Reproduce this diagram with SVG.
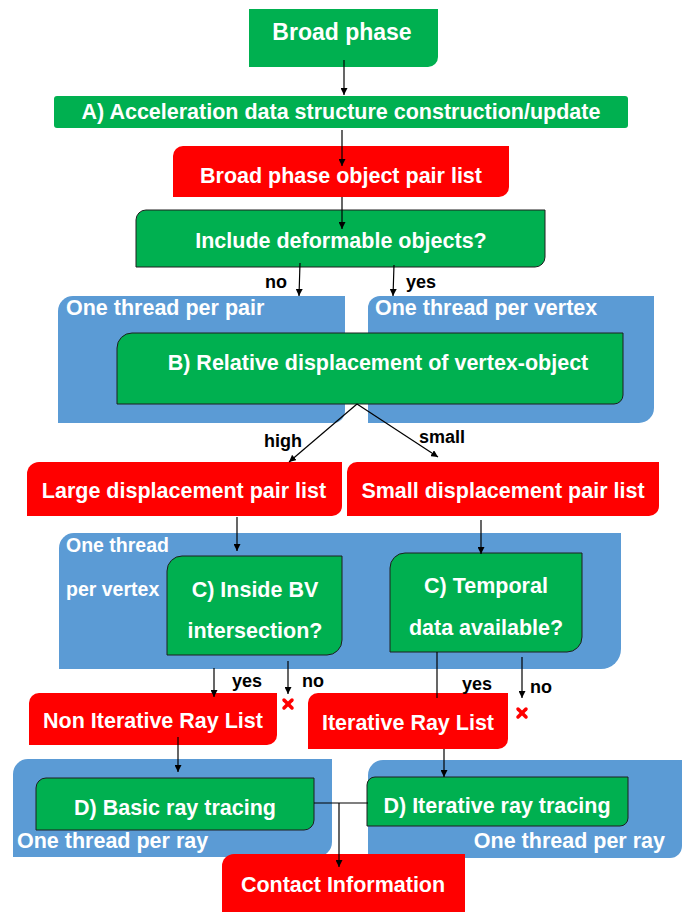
<svg xmlns="http://www.w3.org/2000/svg" width="691" height="912" viewBox="0 0 691 912">
<defs>
<marker id="ah" viewBox="0 0 10 10" refX="10" refY="5" markerWidth="7" markerHeight="7" orient="auto" markerUnits="userSpaceOnUse">
<path d="M0,0 L10,5 L0,10 Z" fill="#000"/>
</marker>
<style>
.g{fill:#00B050}
.gs{fill:#00B050;stroke:#1e1e1e;stroke-width:1}
.r{fill:#FF0000}
.b{fill:#5B9BD5}
.t{font-family:"Liberation Sans",Arial,sans-serif;font-weight:bold;fill:#fff;font-size:21.5px;text-anchor:middle}
.tl{font-family:"Liberation Sans",Arial,sans-serif;font-weight:bold;fill:#fff;font-size:21.5px}
.lb{font-family:"Liberation Sans",Arial,sans-serif;font-weight:bold;fill:#000;font-size:18px;text-anchor:middle}
.c{stroke:#000;stroke-width:1.2;fill:none}
.x{stroke:#FF0000;stroke-width:3.5;stroke-linecap:round}
</style>
</defs>
<rect width="691" height="912" fill="#fff"/>

<g id="broad-phase">
<path class="g" d="M249,9 H438 V57 A10,10 0 0 1 428,67 H249 Z"/>
<text class="t" x="342" y="40" style="font-size:23px">Broad phase</text>
</g>

<g id="accel">
<rect class="g" x="54" y="96" width="574" height="32" rx="3"/>
<text class="t" x="341" y="119">A) Acceleration data structure construction/update</text>
</g>

<g id="pair-list">
<path class="r" d="M183,146 H509 V187 A10,10 0 0 1 499,197 H173 V156 A10,10 0 0 1 183,146 Z"/>
<text class="t" x="341" y="183">Broad phase object pair list</text>
</g>

<g id="include-deformable">
<path class="gs" d="M146,210 H545 V257 A10,10 0 0 1 535,267 H136 V220 A10,10 0 0 1 146,210 Z"/>
<text class="t" x="341" y="248">Include deformable objects?</text>
</g>

<g id="thread-pair">
<path class="b" d="M73,296 H345 V411 A12,12 0 0 1 333,423 H58 V311 A15,15 0 0 1 73,296 Z"/>
<text class="tl" x="66" y="315">One thread per pair</text>
</g>

<g id="thread-vertex">
<path class="b" d="M380,296 H654 V408 A15,15 0 0 1 639,423 H368 V308 A12,12 0 0 1 380,296 Z"/>
<text class="tl" x="375" y="315">One thread per vertex</text>
</g>

<g id="relative-displacement">
<path class="gs" d="M132,333 H623 V395 A9,9 0 0 1 614,404 H117 V348 A15,15 0 0 1 132,333 Z"/>
<text class="t" x="378" y="370">B) Relative displacement of vertex-object</text>
</g>

<g id="large-list">
<path class="r" d="M39,462 H342 V506 A10,10 0 0 1 332,516 H27 V474 A12,12 0 0 1 39,462 Z"/>
<text class="t" x="184" y="498">Large displacement pair list</text>
</g>

<g id="small-list">
<path class="r" d="M357,462 H659 V506 A10,10 0 0 1 649,516 H347 V472 A10,10 0 0 1 357,462 Z"/>
<text class="t" x="503" y="498">Small displacement pair list</text>
</g>

<g id="thread-vertex-2">
<path class="b" d="M74,533 H621 V649 A20,20 0 0 1 601,669 H59 V548 A15,15 0 0 1 74,533 Z"/>
<text class="tl" x="66" y="552" style="font-size:19.5px">One thread</text>
<text class="tl" x="66" y="596" style="font-size:19.5px">per vertex</text>
</g>

<g id="inside-bv">
<path class="gs" d="M182,556 H342 V640 A15,15 0 0 1 327,655 H167 V571 A15,15 0 0 1 182,556 Z"/>
<text class="t" x="255" y="597">C) Inside BV</text>
<text class="t" x="255" y="638">intersection?</text>
</g>

<g id="temporal">
<path class="gs" d="M405,553 H582 V637 A15,15 0 0 1 567,652 H390 V568 A15,15 0 0 1 405,553 Z"/>
<text class="t" x="486" y="593">C) Temporal</text>
<text class="t" x="486" y="635">data available?</text>
</g>

<g id="non-iterative">
<path class="r" d="M39,693 H277 V735 A10,10 0 0 1 267,745 H29 V703 A10,10 0 0 1 39,693 Z"/>
<text class="t" x="153" y="728">Non Iterative Ray List</text>
</g>

<g id="iterative">
<path class="r" d="M318,693 H508 V739 A10,10 0 0 1 498,749 H308 V703 A10,10 0 0 1 318,693 Z"/>
<text class="t" x="408" y="730">Iterative Ray List</text>
</g>

<g id="thread-ray-1">
<path class="b" d="M28,759 H332 V842 A15,15 0 0 1 317,857 H13 V774 A15,15 0 0 1 28,759 Z"/>
<text class="tl" x="17" y="848">One thread per ray</text>
</g>

<g id="thread-ray-2">
<path class="b" d="M383,760 H682 V846 A12,12 0 0 1 670,858 H368 V775 A15,15 0 0 1 383,760 Z"/>
<text class="tl" x="665" y="848" style="text-anchor:end">One thread per ray</text>
</g>

<g id="basic-ray">
<path class="gs" d="M46,778 H314 V820 A10,10 0 0 1 304,830 H36 V788 A10,10 0 0 1 46,778 Z"/>
<text class="t" x="175" y="815">D) Basic ray tracing</text>
</g>

<g id="iterative-ray">
<path class="gs" d="M375,777 H628 V818 A8,8 0 0 1 620,826 H367 V785 A8,8 0 0 1 375,777 Z"/>
<text class="t" x="497" y="813">D) Iterative ray tracing</text>
</g>

<g id="contact">
<path class="r" d="M234,854 H465 V912 H222 V866 A12,12 0 0 1 234,854 Z"/>
<text class="t" x="343" y="892">Contact Information</text>
</g>

<g id="connectors">
<line class="c" x1="344" y1="60" x2="344" y2="95" marker-end="url(#ah)"/>
<line class="c" x1="342" y1="130" x2="342" y2="166" marker-end="url(#ah)"/>
<line class="c" x1="342" y1="197" x2="342" y2="229" marker-end="url(#ah)"/>
<line class="c" x1="300" y1="263" x2="299" y2="296" marker-end="url(#ah)"/>
<line class="c" x1="394" y1="265" x2="393" y2="296" marker-end="url(#ah)"/>
<line class="c" x1="357" y1="404" x2="289" y2="462" marker-end="url(#ah)"/>
<line class="c" x1="357" y1="404" x2="438" y2="457" marker-end="url(#ah)"/>
<line class="c" x1="237" y1="517" x2="237" y2="551" marker-end="url(#ah)"/>
<line class="c" x1="481" y1="520" x2="481" y2="554" marker-end="url(#ah)"/>
<line class="c" x1="214" y1="668" x2="214" y2="697" marker-end="url(#ah)"/>
<line class="c" x1="288" y1="661" x2="288" y2="694" marker-end="url(#ah)"/>
<line class="c" x1="437" y1="652" x2="437" y2="698"/>
<line class="c" x1="522" y1="657" x2="522" y2="698" marker-end="url(#ah)"/>
<line class="c" x1="178" y1="737" x2="178" y2="772" marker-end="url(#ah)"/>
<line class="c" x1="444" y1="749" x2="444" y2="777" marker-end="url(#ah)"/>
<line class="c" x1="314" y1="803" x2="368" y2="803"/>
<line class="c" x1="339" y1="803" x2="339" y2="867" marker-end="url(#ah)"/>
<line class="x" x1="284" y1="700" x2="292" y2="708"/>
<line class="x" x1="292" y1="700" x2="284" y2="708"/>
<line class="x" x1="518" y1="709" x2="526" y2="717"/>
<line class="x" x1="526" y1="709" x2="518" y2="717"/>
<text class="lb" x="276" y="288">no</text>
<text class="lb" x="421" y="288">yes</text>
<text class="lb" x="283" y="447">high</text>
<text class="lb" x="442" y="443">small</text>
<text class="lb" x="247" y="687">yes</text>
<text class="lb" x="313" y="687">no</text>
<text class="lb" x="477" y="690">yes</text>
<text class="lb" x="541" y="693">no</text>
</g>
</svg>
